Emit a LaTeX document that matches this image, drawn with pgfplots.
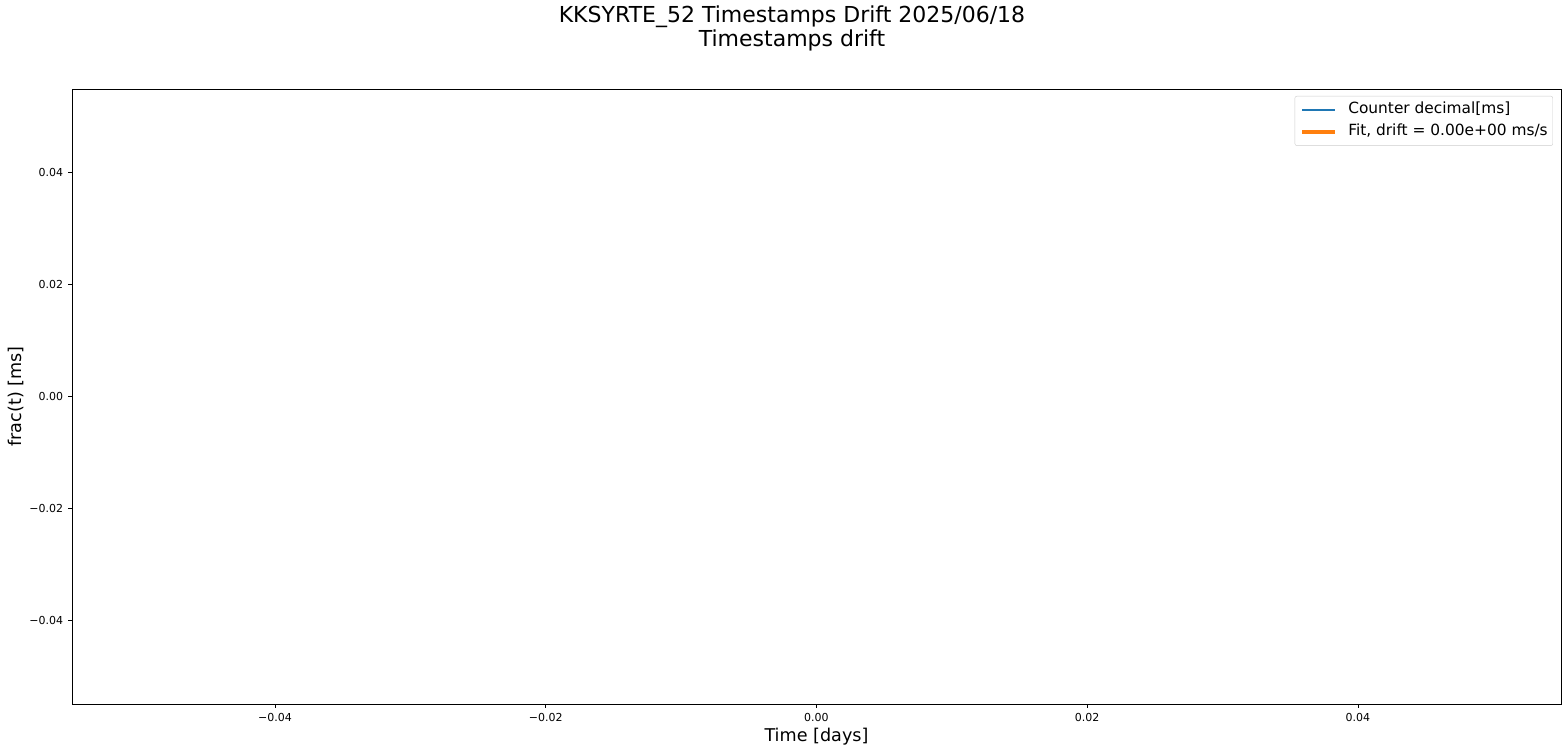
\documentclass[border=0pt]{standalone}
\usepackage{pgfplots}
\pgfplotsset{compat=1.18}
\usepackage{fontspec}
\setmainfont{DejaVu Sans}

\definecolor{mplblue}{HTML}{1F77B4}
\definecolor{mplorange}{HTML}{FF7F0E}
\definecolor{legframe}{HTML}{CCCCCC}

\begin{document}
\begin{tikzpicture}
  \useasboundingbox (-72pt,-48pt) rectangle (1496pt,704pt);
  \begin{axis}[
      scale only axis,
      width=1489pt, height=615pt,
      xmin=-0.055, xmax=0.055,
      ymin=-0.055, ymax=0.055,
      scaled ticks=false,
      axis line style={line width=0.88pt},
      tick style={line width=0.88pt, black},
      tick align=outside,
      major tick length=3.85pt,
      xtick={-0.04,-0.02,0,0.02,0.04},
      xticklabels={−0.04,−0.02,0.00,0.02,0.04},
      ytick={-0.04,-0.02,0,0.02,0.04},
      yticklabels={−0.04,−0.02,0.00,0.02,0.04},
      xtick pos=bottom, ytick pos=left,
      ticklabel style={font=\fontsize{11}{13}\selectfont},
      xticklabel style={anchor=north, inner sep=0pt, yshift=-4.85pt},
      yticklabel style={anchor=east, inner sep=0pt, xshift=-4.85pt},
      xlabel={Time [days]},
      ylabel={frac(t) [ms]},
      label style={font=\fontsize{17.6}{20}\selectfont, inner sep=0pt},
      xlabel style={at={(axis description cs:0.5,-0.060163)}, anchor=base},
      ylabel style={at={(axis description cs:-0.03358,0.5)}, anchor=base, rotate=0},
      legend style={
        at={(axis description cs:0.99463,0.98862)}, anchor=north east,
        draw=legframe, rounded corners=2pt, fill=white, fill opacity=0.8,
        text opacity=1, draw opacity=1,
        font=\fontsize{15.4}{18}\selectfont,
        inner xsep=5pt, inner ysep=6pt,
        row sep=7.4pt, column sep=11pt,
        nodes={inner sep=0pt, text height=11pt, text depth=4pt},
      },
      legend cell align=left,
      legend image code/.code={\draw[#1] (0pt,0pt) -- (33pt,0pt);},
    ]
    \addplot[color=mplblue, line width=1.65pt] coordinates {(0,0)};
    \addlegendentry{Counter decimal[ms]}
    \addplot[color=mplorange, line width=4.4pt] coordinates {(0,0)};
    \addlegendentry{Fit, drift = 0.00e+00 ms/s}
  \end{axis}
  \node[anchor=base, inner sep=0pt, font=\fontsize{22}{26}\selectfont] at (720pt,681pt) {KKSYRTE\_52 Timestamps Drift 2025/06/18};
  \node[anchor=base, inner sep=0pt, font=\fontsize{22}{26}\selectfont] at (720pt,657pt) {Timestamps drift};
\end{tikzpicture}
\end{document}
